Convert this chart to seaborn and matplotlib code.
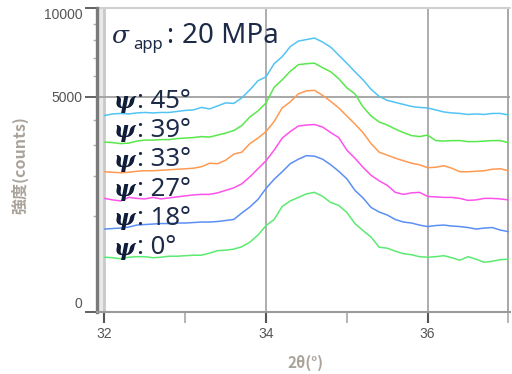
import numpy as np
import pandas as pd
import matplotlib
matplotlib.use("Agg")
import matplotlib.pyplot as plt
import seaborn as sns

# ---------------- data ----------------
two_theta = [32.0, 32.1, 32.2, 32.3, 32.4, 32.5, 32.6, 32.7, 32.8, 32.9,
             33.0, 33.1, 33.2, 33.3, 33.4, 33.5, 33.6, 33.7, 33.8, 33.9,
             34.0, 34.1, 34.2, 34.3, 34.4, 34.5, 34.6, 34.7, 34.8, 34.9,
             35.0, 35.1, 35.2, 35.3, 35.4, 35.5, 35.6, 35.7, 35.8, 35.9,
             36.0, 36.1, 36.2, 36.3, 36.4, 36.5, 36.6, 36.7, 36.8, 36.9, 37.0]

counts_psi45 = [4172, 4237, 4258, 4237, 4280, 4301, 4280, 4301, 4301, 4345,
                4389, 4411, 4521, 4455, 4588, 4724, 4701, 4955, 5335, 5779,
                5982, 6667, 7051, 7618, 7939, 8028, 8118, 7881, 7589, 7135,
                6694, 6241, 5829, 5359, 5025, 4839, 4747, 4656, 4566, 4521,
                4499, 4411, 4323, 4280, 4258, 4215, 4237, 4215, 4258, 4258, 4194]
counts_psi39 = [3115, 3097, 3060, 3078, 3152, 3190, 3190, 3208, 3208, 3246,
                3265, 3284, 3322, 3303, 3379, 3457, 3555, 3755, 4108, 4367,
                4724, 5456, 5829, 6267, 6613, 6667, 6694, 6452, 6241, 5880,
                5432, 5143, 4544, 4151, 3899, 3775, 3614, 3476, 3360, 3322,
                3379, 3171, 3152, 3171, 3171, 3134, 3134, 3152, 3171, 3171, 3097]
counts_psi33 = [2120, 2105, 2090, 2105, 2135, 2151, 2151, 2166, 2181, 2197,
                2212, 2228, 2275, 2387, 2371, 2485, 2687, 2756, 3060, 3265,
                3516, 3919, 4499, 4770, 5143, 5286, 5310, 5072, 4793, 4499,
                4151, 3816, 3476, 3060, 2756, 2653, 2552, 2469, 2387, 2339,
                2244, 2259, 2307, 2228, 2120, 2120, 2135, 2151, 2197, 2212, 2151]
counts_psi27 = [1389, 1352, 1328, 1413, 1389, 1376, 1413, 1376, 1401, 1426,
                1451, 1476, 1489, 1489, 1528, 1593, 1660, 1770, 1970, 2212,
                2469, 2826, 3265, 3516, 3735, 3775, 3796, 3694, 3476, 3284,
                2826, 2552, 2259, 2014, 1854, 1728, 1541, 1489, 1528, 1541,
                1438, 1426, 1413, 1413, 1389, 1340, 1352, 1389, 1389, 1376, 1352]
counts_psi18 = [738, 747, 756, 774, 811, 821, 830, 840, 840, 850,
                850, 859, 869, 869, 879, 899, 919, 1054, 1187, 1364,
                1646, 1897, 2120, 2371, 2518, 2636, 2619, 2518, 2339, 2135,
                1912, 1593, 1401, 1175, 1075, 1011, 919, 869, 850, 811,
                783, 802, 811, 793, 783, 765, 738, 756, 765, 720, 693]
counts_psi0 = [320, 314, 302, 320, 326, 326, 314, 320, 332, 332,
               338, 344, 344, 369, 402, 408, 422, 456, 522, 634,
               802, 919, 1198, 1328, 1413, 1502, 1541, 1438, 1292, 1221,
               1065, 840, 711, 601, 449, 435, 395, 363, 350, 326,
               320, 326, 338, 314, 285, 326, 297, 263, 274, 291, 297]

psi_labels = ["45°", "39°", "33°", "27°", "18°", "0°"]
series = [counts_psi45, counts_psi39, counts_psi33, counts_psi27, counts_psi18, counts_psi0]
line_colors = ["#52c4f4", "#58e84c", "#ff9a52", "#ff52ea", "#5b8ff5", "#5ceb72"]

y_ticks = [0, 5000, 10000]
y_tick_labels = ["0", "5000", "10000"]
y_minor = [1000, 2000, 3000, 4000, 6000, 7000, 8000, 9000]
x_ticks = [32, 34, 36]
x_minor = [33, 35, 37]
stress_label = "20 MPa"

# ---------------- figure ----------------
sns.set_theme(style="white")
plt.rcParams["font.family"] = ["Liberation Sans", "DejaVu Sans"]

W, H = 512, 374
fig = plt.figure(figsize=(W / 100, H / 100), dpi=100)
ax_l, ax_r, ax_t, ax_b = 96.5, 510, 8, 311.5
ax = fig.add_axes([ax_l / W, 1 - ax_b / H, (ax_r - ax_l) / W, (ax_b - ax_t) / H])

df = pd.concat([
    pd.DataFrame({"two_theta": two_theta, "counts": s, "psi": lab})
    for s, lab in zip(series, psi_labels)
], ignore_index=True)

sns.lineplot(data=df, x="two_theta", y="counts", hue="psi",
             palette=dict(zip(psi_labels, line_colors)), hue_order=psi_labels,
             estimator=None, sort=False, legend=False, linewidth=1.1, ax=ax, zorder=3)

ax.set_yscale("function", functions=(lambda v: np.sqrt(np.clip(v, 0, None)),
                                     lambda v: np.square(v)))
x_left = 32 - 8.0 / 80.8
ax.set_xlim(x_left, 37.02)
ax.set_ylim(0, 10000)

# background band and grid
ax.axvspan(x_left, 32, color="#e8e8e8", zorder=0, lw=0)
ax.axvline(32, color="#c9c9c9", lw=2.0, zorder=1)
for xv in [34, 36]:
    ax.axvline(xv, color="#a8a8a8", lw=1.3, zorder=1)
ax.axvline(37, color="#a0a0a0", lw=1.3, zorder=1)
ax.axhline(5000, color="#a0a0a0", lw=1.3, zorder=1)
ax.axhline(10000, color="#d0d0d0", lw=1.5, zorder=1, clip_on=False)

for side in ["top", "right"]:
    ax.spines[side].set_visible(False)
ax.spines["left"].set_color("#7a7a7a")
ax.spines["left"].set_linewidth(2.4)
ax.spines["bottom"].set_color("#9a9a9a")
ax.spines["bottom"].set_linewidth(1.5)

ax.set_yticks(y_ticks)
ax.set_yticklabels(y_tick_labels)
ax.set_yticks(y_minor, minor=True)
ax.set_xticks(x_ticks)
ax.set_xticklabels([str(v) for v in x_ticks])
ax.set_xticks(x_minor, minor=True)

ax.tick_params(axis="y", which="major", length=8.5, width=1.3, color="#555555",
               labelsize=10, labelcolor="#555555", pad=1.5, left=True)
ax.tick_params(axis="y", which="minor", length=3, width=1.0, color="#b0b0b0", left=True)
ax.tick_params(axis="x", which="major", length=8, width=1.5, color="#555555",
               labelsize=10, labelcolor="#555555", pad=3, bottom=True)
ax.tick_params(axis="x", which="minor", length=8, width=1.2, color="#a8a8a8", bottom=True)

ylabs = ax.get_yticklabels()
ylabs[0].set_va("bottom")
ylabs[2].set_va("top")

ax.set_xlabel("")
ax.set_ylabel("")

def fx(x):
    return x / W

def fy(y):
    return 1 - y / H

label_color = "#aaa39b"
fig.text(fx(20), fy(165), "強度(counts)", rotation=90, ha="center", va="center",
         fontsize=11.5, fontweight="bold", color=label_color,
         family=["Noto Sans CJK JP", "DejaVu Sans"])
fig.text(fx(305), fy(363), "2θ(°)", ha="center", va="center",
         fontsize=11, fontweight="bold", color=label_color,
         family=["Noto Sans CJK JP", "DejaVu Sans"])

ann_color = "#1d2b48"
sans = ["Noto Sans", "DejaVu Sans"]
fig.text(fx(111), fy(43), "σ", ha="left", va="baseline", fontsize=18,
         style="italic", color=ann_color, family=["DejaVu Serif"])
fig.text(fx(133), fy(49), "app", ha="left", va="baseline", fontsize=12,
         color=ann_color, family=sans)
fig.text(fx(166), fy(43), ":", ha="left", va="baseline", fontsize=19,
         color=ann_color, family=sans)
fig.text(fx(182), fy(43), stress_label, ha="left", va="baseline", fontsize=20,
         color=ann_color, family=sans)

baselines = [108, 137, 166.5, 196, 225, 254.5]
for lab, yb in zip(psi_labels, baselines):
    fig.text(fx(114), fy(yb), "ψ", ha="left", va="baseline", fontsize=16.5,
             style="italic", fontweight="bold", color="#0f1d3a", family=["DejaVu Serif"])
    fig.text(fx(137), fy(yb), ": " + lab, ha="left", va="baseline", fontsize=18.5,
             color=ann_color, family=sans)

fig.savefig("out.png", dpi=100)
